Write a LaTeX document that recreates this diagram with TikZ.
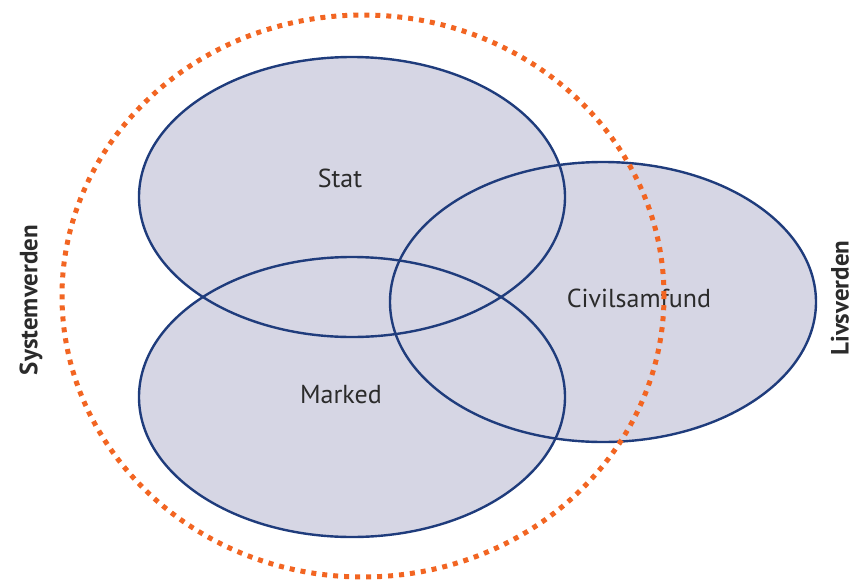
\documentclass[tikz,border=0pt]{standalone}
\usepackage{fontspec}
\setmainfont{PT Sans}
\usetikzlibrary{shapes.geometric}
\definecolor{sphfill}{HTML}{D6D6E4}
\definecolor{sphline}{HTML}{1F3C7C}
\definecolor{dotorange}{HTML}{F26522}
\definecolor{txt}{HTML}{2B2B2B}
\tikzset{
  sphbase/.style={ellipse, minimum width=426pt, minimum height=280pt, inner sep=0pt},
  sphfillst/.style={sphbase, fill=sphfill},
  sphline/.style={sphbase, draw=sphline, line width=2.4pt},
  lab/.style={text=txt, font=\fontsize{26}{28}\selectfont},
  sidelab/.style={text=txt, font=\fontsize{25}{27}\selectfont\bfseries, rotate=90, inner sep=0pt},
  dotring/.style={draw=dotorange, line width=5pt, dash pattern=on 5pt off 6pt}
}
\begin{document}
\begin{tikzpicture}[x=1pt,y=-1pt]
\useasboundingbox (0,0) rectangle (855,582);
% fills
\node[sphfillst] (statf) at (352,197) {};
\node[sphfillst] (markedf) at (352,397) {};
\node[sphfillst] (civilf) at (603,302) {};
% outlines
\node[sphline] (stat) at (352,197) {};
\node[sphline] (marked) at (352,397) {};
\node[sphline] (civil) at (603,302) {};
% labels
\node[lab] (statlab) at (340,178) {Stat};
\node[lab] (markedlab) at (341,395) {Marked};
\node[lab] (civillab) at (639,298) {Civilsamfund};
\node[sidelab] (sys) at (31,300) {Systemverden};
\node[sidelab] (liv) at (840,298) {Livsverden};
% dotted ring
\draw[dotring] (363,296) ellipse [x radius=301pt, y radius=281pt];
\end{tikzpicture}
\end{document}
